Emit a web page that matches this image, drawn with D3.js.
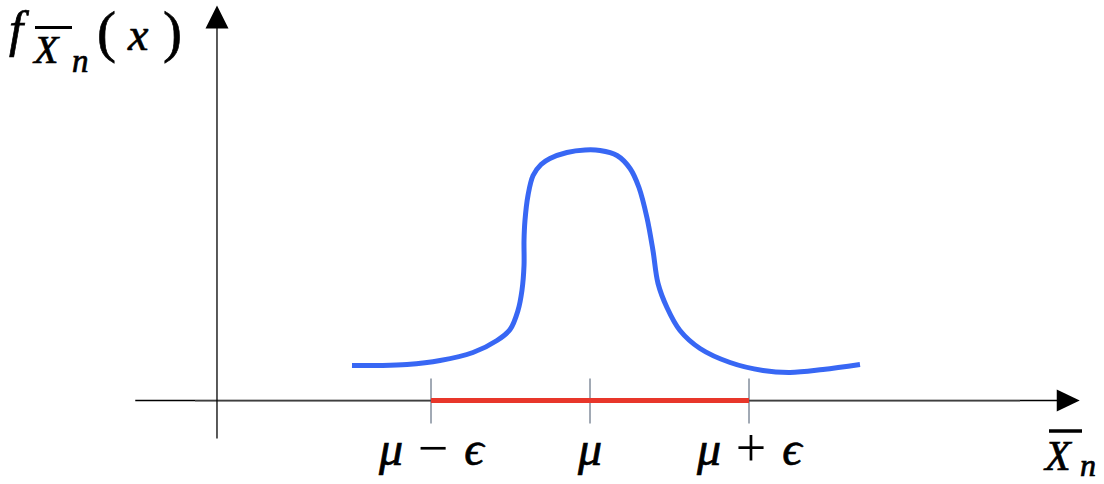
<!DOCTYPE html>
<html>
<head>
<meta charset="utf-8">
<script src="https://cdn.jsdelivr.net/npm/d3@7"></script>
<style>
  html, body { margin: 0; padding: 0; background: #fff; }
  svg { display: block; }
  text { font-family: "Liberation Serif", "DejaVu Serif", serif; fill: #000; stroke: #000; stroke-width: 0.7px; }
</style>
</head>
<body>
<svg id="chart" width="1104" height="484"></svg>
<script>
// ---- data ----
const curveX = [-1.497, -1.321, -1.151, -0.943, -0.736, -0.585, -0.503, -0.453, -0.428, -0.415, -0.415,
  -0.409, -0.390, -0.358, -0.308, -0.252, -0.145, -0.031, 0.063, 0.170, 0.252, 0.308, 0.358, 0.396,
  0.428, 0.484, 0.566, 0.692, 0.881, 1.088, 1.258, 1.465, 1.698];
const curveY = [0.14, 0.14, 0.144, 0.16, 0.192, 0.24, 0.284, 0.36, 0.44, 0.54, 0.64,
  0.72, 0.82, 0.90, 0.944, 0.968, 0.992, 1.002, 1.0, 0.98, 0.928, 0.852, 0.732, 0.60,
  0.468, 0.372, 0.28, 0.208, 0.152, 0.12, 0.112, 0.124, 0.144];
const tickValues = [-1, 0, 1];          // mu - eps, mu, mu + eps
const tickLabels = [["μ", "−", "ϵ"], ["μ"], ["μ", "+", "ϵ"]];
const intervalRange = [-1, 1];          // red segment
const xAxisExtent = [-2.86, 3.08];
const yAxisExtent = [-0.152, 1.58];
const yAxisAt = -2.346;

// ---- scales ----
const x = d3.scaleLinear().domain([-1, 1]).range([431, 749]);
const y = d3.scaleLinear().domain([0, 1]).range([400.5, 150.5]);

const svg = d3.select("#chart");

// x axis
svg.append("line")
  .attr("x1", x(xAxisExtent[0])).attr("x2", x(xAxisExtent[1]) - 20)
  .attr("y1", y(0)).attr("y2", y(0))
  .attr("stroke", "#000").attr("stroke-width", 1.3);
svg.append("line")
  .attr("x1", 195).attr("x2", 1020)
  .attr("y1", y(0) + 0.6).attr("y2", y(0) + 0.6)
  .attr("stroke", "#7f7f7f").attr("stroke-width", 1.4);
const xt = x(xAxisExtent[1]);
svg.append("path")
  .attr("d", `M${xt},${y(0)} L${xt - 23},${y(0) - 11} L${xt - 23},${y(0) + 11} Z`)
  .attr("fill", "#000");

// y axis
const x0 = x(yAxisAt);
svg.append("line")
  .attr("x1", x0).attr("x2", x0)
  .attr("y1", y(yAxisExtent[0])).attr("y2", y(yAxisExtent[1]) + 20)
  .attr("stroke", "#000").attr("stroke-width", 1.3);
const yt = y(yAxisExtent[1]);
svg.append("path")
  .attr("d", `M${x0},${yt} L${x0 - 11.5},${yt + 23} L${x0 + 11.5},${yt + 23} Z`)
  .attr("fill", "#000");

// ticks
svg.selectAll("line.tick").data(tickValues).enter().append("line")
  .attr("class", "tick")
  .attr("x1", d => x(d)).attr("x2", d => x(d))
  .attr("y1", y(0) - 22).attr("y2", y(0) + 23)
  .attr("stroke", "#44546a").attr("stroke-width", 1);

// red interval
svg.append("line")
  .attr("x1", x(intervalRange[0])).attr("x2", x(intervalRange[1]))
  .attr("y1", y(0)).attr("y2", y(0))
  .attr("stroke", "#e8362a").attr("stroke-width", 5);

// curve
const pts = curveX.map((v, i) => [v, curveY[i]]);
svg.append("path")
  .datum(pts)
  .attr("d", d3.line().x(d => x(d[0])).y(d => y(d[1])).curve(d3.curveCatmullRom.alpha(0.5)))
  .attr("fill", "none")
  .attr("stroke", "#3867f4")
  .attr("stroke-width", 5)
  .attr("stroke-linecap", "butt");

// tick labels (each symbol placed around the tick)
const partOffsets = [-40, 2, 43];
tickValues.forEach((v, i) => {
  const parts = tickLabels[i];
  parts.forEach((s, j) => {
    const off = parts.length === 1 ? 0 : partOffsets[j];
    const isOp = j === 1;
    svg.append("text")
      .attr("x", x(v) + off)
      .attr("y", isOp ? 466 : 465)
      .attr("text-anchor", "middle")
      .attr("font-size", isOp ? 54 : 48)
      .attr("font-style", isOp ? "normal" : "italic")
      .style("stroke-width", isOp ? "0px" : "0.7px")
      .text(s);
  });
});

// y-axis title f_{X̄_n}(x)
svg.append("text").attr("x", 9).attr("y", 46).attr("font-size", 51).attr("font-style", "italic").text("f");
svg.append("text").attr("x", 34).attr("y", 63).attr("font-size", 40).attr("font-style", "italic").text("X");
svg.append("line").attr("x1", 35).attr("x2", 72).attr("y1", 27.5).attr("y2", 27.5).attr("stroke", "#000").attr("stroke-width", 3);
svg.append("text").attr("x", 72).attr("y", 72).attr("font-size", 33).attr("font-style", "italic").text("n");
svg.append("text").attr("x", 97).attr("y", 51).attr("font-size", 57).text("(");
svg.append("text").attr("x", 128).attr("y", 50).attr("font-size", 46).attr("font-style", "italic").text("x");
svg.append("text").attr("x", 163).attr("y", 51).attr("font-size", 57).text(")");

// x-axis title X̄_n
svg.append("text").attr("x", 1045).attr("y", 470).attr("font-size", 42).attr("font-style", "italic").text("X");
svg.append("line").attr("x1", 1049).attr("x2", 1082).attr("y1", 431).attr("y2", 431).attr("stroke", "#000").attr("stroke-width", 3.5);
svg.append("text").attr("x", 1080).attr("y", 476).attr("font-size", 32).attr("font-style", "italic").text("n");
</script>
</body>
</html>
